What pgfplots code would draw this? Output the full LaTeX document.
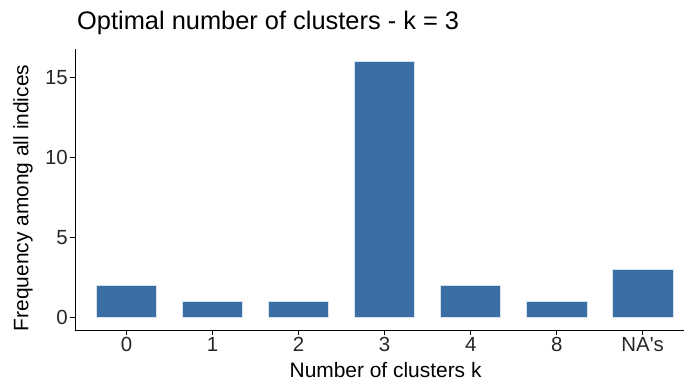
\documentclass[border=0pt]{standalone}
\usepackage{pgfplots}
\pgfplotsset{compat=1.18}
\usepackage{fontspec}
\setmainfont{Liberation Sans}
\definecolor{barblue}{RGB}{58,110,165}

\begin{document}
\begin{tikzpicture}
  \path[use as bounding box] (-75bp,-51bp) rectangle (611bp,330bp);
  \begin{axis}[
      scale only axis,
      width=609bp, height=281bp,
      xmin=-0.6, xmax=6.48,
      ymin=-0.8, ymax=16.8,
      axis x line*=bottom, axis y line*=left,
      axis line style={line width=0.9bp, -},
      xtick={0,1,2,3,4,5,6},
      xticklabels={0,1,2,3,4,8,{NA\textquotesingle s}},
      ytick={0,5,10,15},
      tick style={black, line width=0.9bp},
      tick align=outside,
      major tick length=5bp,
      ticklabel style={font=\fontsize{20.5}{22}\selectfont, text=black!85, inner sep=2bp},
      /pgf/number format/assume math mode=true,
      xlabel={Number of clusters k},
      ylabel={Frequency among all indices},
      label style={font=\fontsize{21}{23}\selectfont, inner sep=0pt},
      xlabel style={at={(axis description cs:0.51,0)}, anchor=base, yshift=-47bp},
      ylabel style={at={(axis description cs:-0.069,0.47)}, anchor=south, rotate=0},
      title={Optimal number of clusters - k = 3},
      title style={font=\fontsize{25.5}{27}\selectfont, inner sep=0pt, at={(0,1)}, anchor=base west, xshift=2bp, yshift=14bp},
      ybar, bar width=0.7,
      clip=false,
    ]
    \addplot[fill=barblue, draw=white!80!barblue, line width=0.6bp]
      coordinates {(0,2) (1,1) (2,1) (3,16) (4,2) (5,1) (6,3)};
  \end{axis}
\end{tikzpicture}
\end{document}
